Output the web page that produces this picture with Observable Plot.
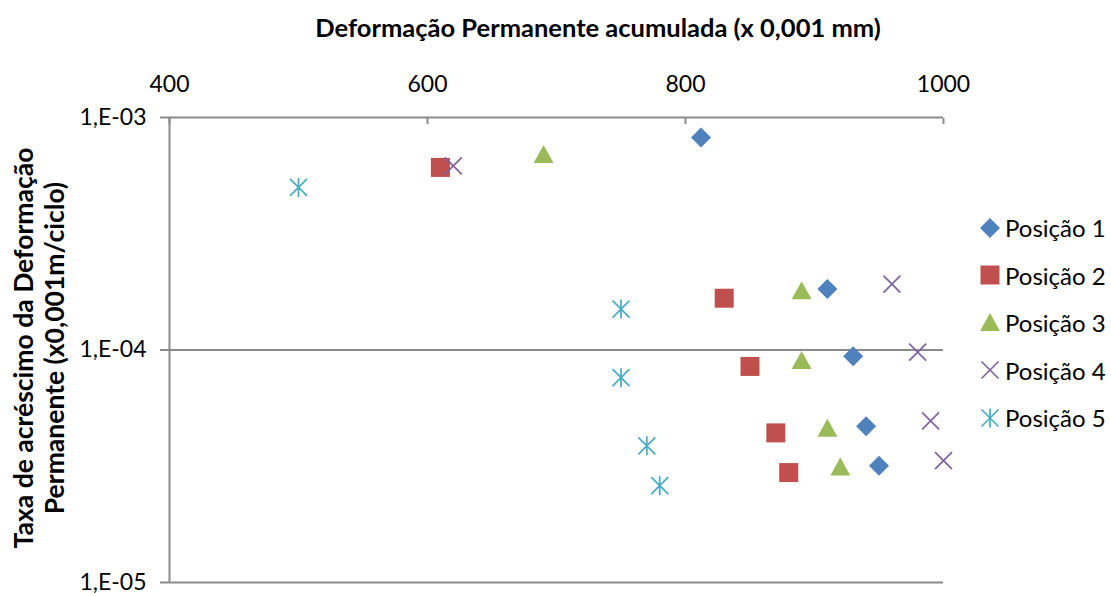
<!DOCTYPE html>
<html>
<head>
<meta charset="utf-8">
<script src="https://cdn.jsdelivr.net/npm/d3@7"></script>
<script src="https://cdn.jsdelivr.net/npm/@observablehq/plot@0.6"></script>
<style>
  html, body { margin: 0; padding: 0; background: #fff; }
  #wrap { position: relative; width: 1111px; height: 596px; font-family: Lato, "Open Sans", sans-serif; color: #000; }
  #title { position: absolute; left: 0; width: 1196px; top: 12px; text-align: center; font-weight: bold; font-size: 25.5px; line-height: 31px; }
  #ytitle { position: absolute; width: 500px; height: 64px; left: -210px; top: 316px; transform: rotate(-90deg); text-align: center; font-weight: bold; font-size: 26.5px; line-height: 31px; white-space: nowrap; }
  #legend { position: absolute; left: 978px; top: 204px; }
  .item { display: flex; align-items: center; height: 47.5px; font-size: 24px; }
  .item svg { width: 24px; height: 24px; margin-right: 3px; }
</style>
</head>
<body>
<div id="wrap">
  <div id="title">Deformação Permanente acumulada (x 0,001 mm)</div>
  <div id="ytitle">Taxa de acréscimo da Deformação<br>Permanente (x0,001m/ciclo)</div>
  <div id="chart"></div>
  <div id="legend"></div>
</div>
<script>
const seriesNames = ["Posição 1", "Posição 2", "Posição 3", "Posição 4", "Posição 5"];
const seriesColors = ["#4F81BD", "#C0504D", "#9BBB59", "#8064A2", "#4BACC6"];

const pos1X = [812, 910, 930, 940, 950];
const pos1Y = [8.2e-4, 1.83e-4, 9.4e-5, 4.7e-5, 3.18e-5];
const pos2X = [610, 830, 850, 870, 880];
const pos2Y = [6.1e-4, 1.67e-4, 8.5e-5, 4.4e-5, 2.97e-5];
const pos3X = [690, 890, 890, 910, 920];
const pos3Y = [6.9e-4, 1.79e-4, 8.97e-5, 4.58e-5, 3.12e-5];
const pos4X = [620, 960, 980, 990, 1000];
const pos4Y = [6.2e-4, 1.92e-4, 9.8e-5, 4.96e-5, 3.34e-5];
const pos5X = [500, 750, 750, 770, 780];
const pos5Y = [5.0e-4, 1.5e-4, 7.6e-5, 3.87e-5, 2.61e-5];

const xTicks = [400, 600, 800, 1000];
const yTicks = [1e-3, 1e-4, 1e-5];
const yTickLabels = ["1,E-03", "1,E-04", "1,E-05"];

const seriesX = [pos1X, pos2X, pos3X, pos4X, pos5X];
const seriesY = [pos1Y, pos2Y, pos3Y, pos4Y, pos5Y];

// custom symbols (size = r*r*PI)
const rad = s => Math.sqrt(s / Math.PI);
const symDiamond = { draw(c, s) { const r = rad(s); c.moveTo(0, -r); c.lineTo(r, 0); c.lineTo(0, r); c.lineTo(-r, 0); c.closePath(); } };
const symSquare = { draw(c, s) { const h = rad(s) * 0.95; c.moveTo(-h, -h); c.lineTo(h, -h); c.lineTo(h, h); c.lineTo(-h, h); c.closePath(); } };
const symTriangle = { draw(c, s) { const r = rad(s); c.moveTo(0, -r); c.lineTo(r, r * 0.8); c.lineTo(-r, r * 0.8); c.closePath(); } };
const symTimes = { draw(c, s) { const h = rad(s) * 0.85; c.moveTo(-h, -h); c.lineTo(h, h); c.moveTo(h, -h); c.lineTo(-h, h); } };
const symStar = { draw(c, s) { const r = rad(s); const h = r * 0.85; c.moveTo(-h, -h); c.lineTo(h, h); c.moveTo(h, -h); c.lineTo(-h, h); c.moveTo(0, -r * 0.95); c.lineTo(0, r * 0.95); } };
const symbols = [symDiamond, symSquare, symTriangle, symTimes, symStar];
const filled = [true, true, true, false, false];

const gridColor = "#8a8a8a";

const dotMarks = seriesNames.map((name, i) => {
  const data = seriesX[i].map((x, j) => ({ x, y: seriesY[i][j] }));
  return Plot.dot(data, filled[i]
    ? { x: "x", y: "y", symbol: symbols[i], r: 10, fill: seriesColors[i], stroke: "none" }
    : { x: "x", y: "y", symbol: symbols[i], r: 10, fill: "none", stroke: seriesColors[i], strokeWidth: 1.75 });
});

const chart = Plot.plot({
  width: 1111,
  height: 596,
  marginLeft: 169,
  marginRight: 168,
  marginTop: 117,
  marginBottom: 14,
  style: { fontFamily: "Lato, 'Open Sans', sans-serif", fontSize: "23px", color: "#000", background: "#fff", overflow: "visible" },
  x: { domain: [400, 1000] },
  y: { type: "log", domain: [1e-5, 1e-3] },
  marks: [
    Plot.ruleY(yTicks, { stroke: gridColor, strokeWidth: 2 }),
    Plot.ruleX([400], { stroke: gridColor, strokeWidth: 2 }),
    Plot.axisX({ anchor: "top", ticks: xTicks, tickFormat: d => String(d), tickSize: 0, tickPadding: 26, label: null, fontSize: 23 }),
    Plot.axisX({ anchor: "top", ticks: xTicks, tickSize: 6, dy: 6, text: null, stroke: gridColor, strokeWidth: 2, label: null }),
    Plot.axisY({ anchor: "left", ticks: yTicks, tickFormat: d => yTickLabels[yTicks.indexOf(d)], tickSize: 9, tickPadding: 14, stroke: gridColor, strokeWidth: 2, label: null, fontSize: 23 }),
    ...dotMarks
  ]
});
document.getElementById("chart").appendChild(chart);

// legend
const legend = d3.select("#legend");
seriesNames.forEach((name, i) => {
  const item = legend.append("div").attr("class", "item");
  const svg = item.append("svg").attr("viewBox", "-12 -12 24 24");
  const path = d3.symbol(symbols[i], 10 * 10 * Math.PI)();
  if (filled[i]) svg.append("path").attr("d", path).attr("fill", seriesColors[i]);
  else svg.append("path").attr("d", path).attr("fill", "none").attr("stroke", seriesColors[i]).attr("stroke-width", 1.75);
  item.append("span").text(name);
});
</script>
</body>
</html>
